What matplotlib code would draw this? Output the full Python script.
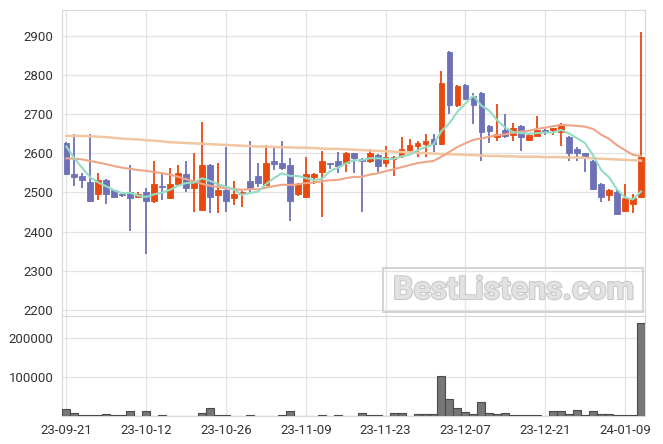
import matplotlib
matplotlib.use("Agg")
import matplotlib.pyplot as plt
import matplotlib.patheffects as pe
from matplotlib.patches import Rectangle
import numpy as np
import pandas as pd

# ---------------- data ----------------
opens = [2626, 2546, 2542, 2526, 2495, 2532, 2506, 2496, 2501, 2489,
         2501, 2477, 2517, 2485, 2521, 2547, 2511, 2454, 2570, 2494,
         2506, 2485, 2495, 2528, 2542, 2519, 2580, 2575, 2570, 2495,
         2489, 2540, 2553, 2575, 2580, 2574, 2600, 2585, 2579, 2596,
         2574, 2585, 2594, 2608, 2619, 2624, 2636, 2624, 2858, 2722,
         2773, 2747, 2754, 2670, 2641, 2659, 2647, 2670, 2634, 2645,
         2659, 2658, 2653, 2641, 2611, 2600, 2580, 2522, 2494, 2500,
         2453, 2470, 2489]
highs = [2628, 2648, 2549, 2648, 2549, 2534, 2507, 2499, 2570, 2501,
         2511, 2580, 2546, 2562, 2570, 2579, 2600, 2679, 2572, 2575,
         2615, 2528, 2503, 2631, 2575, 2621, 2615, 2631, 2587, 2525,
         2590, 2549, 2605, 2576, 2604, 2603, 2601, 2589, 2610, 2598,
         2619, 2592, 2641, 2637, 2632, 2649, 2649, 2810, 2860, 2774,
         2776, 2753, 2756, 2671, 2725, 2700, 2678, 2672, 2650, 2695,
         2661, 2665, 2676, 2643, 2615, 2601, 2582, 2523, 2509, 2505,
         2521, 2496, 2908]
lows = [2544, 2517, 2511, 2475, 2480, 2470, 2485, 2489, 2402, 2485,
        2342, 2474, 2481, 2484, 2518, 2500, 2450, 2452, 2447, 2447,
        2450, 2468, 2463, 2498, 2515, 2517, 2557, 2557, 2426, 2492,
        2487, 2522, 2437, 2559, 2549, 2553, 2549, 2451, 2574, 2553,
        2566, 2542, 2587, 2604, 2590, 2591, 2604, 2622, 2699, 2717,
        2735, 2675, 2579, 2626, 2630, 2640, 2631, 2606, 2630, 2644,
        2647, 2647, 2619, 2579, 2579, 2553, 2505, 2475, 2479, 2446,
        2451, 2448, 2485]
closes = [2546, 2540, 2531, 2479, 2532, 2495, 2489, 2494, 2485, 2496,
          2479, 2522, 2515, 2522, 2549, 2511, 2528, 2570, 2489, 2506,
          2479, 2495, 2501, 2511, 2523, 2574, 2573, 2563, 2478, 2522,
          2547, 2547, 2580, 2573, 2568, 2600, 2589, 2579, 2600, 2568,
          2591, 2590, 2610, 2621, 2626, 2631, 2624, 2780, 2722, 2772,
          2737, 2722, 2653, 2657, 2649, 2645, 2664, 2641, 2647, 2659,
          2653, 2664, 2674, 2600, 2600, 2589, 2509, 2489, 2506, 2446,
          2485, 2485, 2590]
volumes = [18000, 7000, 2500, 2500, 2500, 6000, 2500, 2500, 13000, 0,
           13000, 0, 2500, 0, 0, 0, 0, 7000, 20000, 2500,
           2500, 0, 0, 2500, 0, 0, 0, 2500, 13000, 0,
           0, 0, 2500, 0, 2500, 0, 0, 7000, 3000, 3000,
           0, 9000, 9000, 0, 6000, 6000, 6000, 102000, 43000, 20000,
           9500, 6000, 35000, 9000, 6000, 9000, 2000, 2000, 2000, 2000,
           0, 12000, 12000, 6000, 15000, 2000, 12000, 6000, 6000, 2000,
           2000, 2000, 239000]
ma5_head = [2617, 2587, 2562, 2538]
ma20_head = [2587, 2586, 2584, 2580, 2576, 2572, 2567, 2563, 2560, 2557,
             2555, 2552, 2549, 2545, 2540, 2534, 2528, 2522, 2517]
ma_long = [2644, 2644, 2644, 2643, 2642, 2641, 2639, 2637, 2636, 2635,
           2633, 2632, 2630, 2628, 2627, 2626, 2625, 2624, 2623, 2622,
           2621, 2620, 2619, 2618, 2617, 2617, 2616, 2615, 2615, 2614,
           2614, 2613, 2612, 2611, 2611, 2610, 2609, 2608, 2607, 2606,
           2605, 2604, 2603, 2602, 2601, 2600, 2599, 2598, 2597, 2597,
           2596, 2595, 2594, 2593, 2593, 2592, 2592, 2591, 2591, 2591,
           2590, 2590, 2590, 2589, 2589, 2588, 2587, 2586, 2585, 2584,
           2583, 2582, 2581]
tick_labels = ["23-09-21", "23-10-12", "23-10-26", "23-11-09",
               "23-11-23", "23-12-07", "23-12-21", "24-01-09"]
tick_pos = [0, 10, 20, 30, 40, 50, 60, 70]
price_ticks = [2200, 2300, 2400, 2500, 2600, 2700, 2800, 2900]
vol_ticks = [100000, 200000]

# ---------------- derived ----------------
n = len(closes)
x = np.arange(n)
cs = pd.Series(closes, dtype=float)
ma5 = cs.rolling(5).mean().to_numpy()
ma5[:len(ma5_head)] = ma5_head
ma20 = cs.rolling(20).mean().to_numpy()
ma20[:len(ma20_head)] = ma20_head

UP = "#E8490F"
DOWN = "#6E71B6"
GRID = "#E3E3E3"

plt.rcParams['font.family'] = ['Roboto', 'DejaVu Sans']
fig = plt.figure(figsize=(6.63, 4.44), dpi=100)
W, H = 663, 444
L, R = 62, 645
ax = fig.add_axes([L / W, (H - 316) / H, (R - L) / W, (316 - 10) / H])
axv = fig.add_axes([L / W, (H - 416) / H, (R - L) / W, (416 - 316) / H], sharex=ax)

for a in (ax, axv):
    a.set_facecolor("white")
    a.grid(True, color=GRID, linewidth=0.9)
    a.set_axisbelow(True)
    for s in a.spines.values():
        s.set_color("#D8D8D8")
        s.set_linewidth(0.8)
    a.tick_params(length=0, labelsize=9.5, colors="#333333", pad=6)

# candles
bw = 0.72
for i in range(n):
    o, h, l, c = opens[i], highs[i], lows[i], closes[i]
    col = UP if c >= o else DOWN
    ax.vlines(x[i], l, h, color=col, linewidth=1.3, zorder=3)
    lo, hi = min(o, c), max(o, c)
    hgt = max(hi - lo, 1.5)
    ax.add_patch(Rectangle((x[i] - bw / 2, lo), bw, hgt, facecolor=col,
                           edgecolor=col, linewidth=0.6, zorder=4))

ax.plot(x, ma_long, color="#F2C6A0", linewidth=1.8, zorder=5)
ax.plot(x, ma20, color="#EFA587", linewidth=1.5, zorder=5)
ax.plot(x, ma5, color="#94DCC4", linewidth=1.5, zorder=5)

ax.set_ylim(2185, 2965)
ax.set_yticks(price_ticks)
ax.set_xlim(-0.55, 72.5)
ax.set_xticks(tick_pos)
plt.setp(ax.get_xticklabels(), visible=False)

# volume
axv.bar(x, volumes, width=1.0, color="#777777", edgecolor="#4a4a4a", linewidth=0.8, zorder=3)
axv.set_ylim(0, 258000)
axv.set_yticks(vol_ticks)
axv.set_yticklabels([str(v) for v in vol_ticks])
axv.set_xticks(tick_pos)
axv.set_xticklabels(tick_labels)

# watermark
fig.patches.append(Rectangle((383 / W, (H - 312) / H), (643 - 383) / W, (312 - 268) / H,
                             transform=fig.transFigure, facecolor="none",
                             edgecolor="#D5D5D5", linewidth=1.5, zorder=10))
fig.text(514 / W, (H - 290) / H, "BestListens.com", ha="center", va="center",
         fontsize=23, fontweight="bold", color="#E2E2E2", zorder=11,
         path_effects=[pe.withStroke(linewidth=1.5, foreground="#C8C8C8")])

fig.savefig("out.png", dpi=100)
